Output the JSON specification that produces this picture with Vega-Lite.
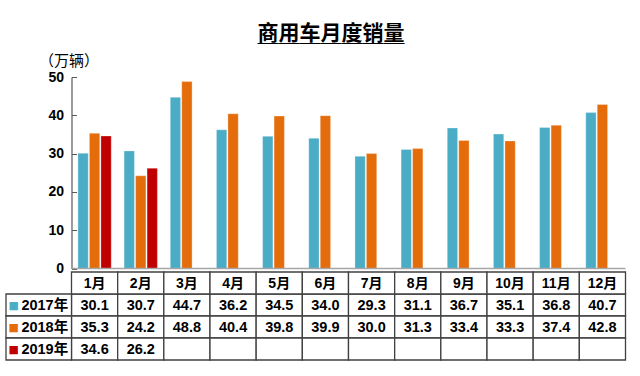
{
  "$schema": "https://vega.github.io/schema/vega-lite/v6.json",
  "width": 554,
  "height": 283,
  "autosize": "none",
  "padding": {"left": 71.5, "top": 77, "right": 14.5, "bottom": 16},
  "background": "white",
  "config": {"view": {"stroke": null}},
  "title": {
    "text": ["商用车月度销量", "＿＿＿＿＿＿＿"],
    "lineHeight": 1,
    "font": "Noto Sans CJK SC",
    "fontSize": 21,
    "fontWeight": "bold",
    "color": "#000000",
    "anchor": "middle",
    "frame": "group",
    "dx": -17.5,
    "offset": 8
  },
  "data": {
    "values": [
      {"month": "1月", "year": "2017年", "value": 30.1},
      {"month": "2月", "year": "2017年", "value": 30.7},
      {"month": "3月", "year": "2017年", "value": 44.7},
      {"month": "4月", "year": "2017年", "value": 36.2},
      {"month": "5月", "year": "2017年", "value": 34.5},
      {"month": "6月", "year": "2017年", "value": 34.0},
      {"month": "7月", "year": "2017年", "value": 29.3},
      {"month": "8月", "year": "2017年", "value": 31.1},
      {"month": "9月", "year": "2017年", "value": 36.7},
      {"month": "10月", "year": "2017年", "value": 35.1},
      {"month": "11月", "year": "2017年", "value": 36.8},
      {"month": "12月", "year": "2017年", "value": 40.7},
      {"month": "1月", "year": "2018年", "value": 35.3},
      {"month": "2月", "year": "2018年", "value": 24.2},
      {"month": "3月", "year": "2018年", "value": 48.8},
      {"month": "4月", "year": "2018年", "value": 40.4},
      {"month": "5月", "year": "2018年", "value": 39.8},
      {"month": "6月", "year": "2018年", "value": 39.9},
      {"month": "7月", "year": "2018年", "value": 30.0},
      {"month": "8月", "year": "2018年", "value": 31.3},
      {"month": "9月", "year": "2018年", "value": 33.4},
      {"month": "10月", "year": "2018年", "value": 33.3},
      {"month": "11月", "year": "2018年", "value": 37.4},
      {"month": "12月", "year": "2018年", "value": 42.8},
      {"month": "1月", "year": "2019年", "value": 34.6},
      {"month": "2月", "year": "2019年", "value": 26.2},
      {"month": "3月", "year": "2019年", "value": null},
      {"month": "4月", "year": "2019年", "value": null},
      {"month": "5月", "year": "2019年", "value": null},
      {"month": "6月", "year": "2019年", "value": null},
      {"month": "7月", "year": "2019年", "value": null},
      {"month": "8月", "year": "2019年", "value": null},
      {"month": "9月", "year": "2019年", "value": null},
      {"month": "10月", "year": "2019年", "value": null},
      {"month": "11月", "year": "2019年", "value": null},
      {"month": "12月", "year": "2019年", "value": null}
    ]
  },
  "resolve": {"scale": {"x": "independent", "y": "independent", "color": "shared"}},
  "layer": [
    {
      "mark": {"type": "bar", "stroke": "#ffffff", "strokeWidth": 0.5, "strokeOpacity": 0.6},
      "transform": [{"filter": "datum.value != null"}],
      "encoding": {
        "x": {"field": "month", "type": "nominal", "scale": {"domain": ["1月","2月","3月","4月","5月","6月","7月","8月","9月","10月","11月","12月"], "paddingInner": 0, "paddingOuter": 0}, "axis": null},
        "xOffset": {"field": "year", "type": "nominal", "scale": {"domain": ["2017年","2018年","2019年"], "paddingInner": 0.1, "paddingOuter": 0.56}},
        "y": {
          "field": "value", "type": "quantitative",
          "scale": {"domain": [0, 50], "range": [191.5, 0], "nice": false},
          "axis": {
            "values": [0, 10, 20, 30, 40, 50],
            "grid": false,
            "title": "（万辆）",
            "titleAngle": 0,
            "titleAlign": "center",
            "titleBaseline": "alphabetic",
            "titleX": -3,
            "titleY": -12,
            "titleFont": "Noto Sans CJK JP",
            "titleFontSize": 15,
            "titleFontWeight": "normal",
            "titleColor": "#000000",
            "labelFont": "Liberation Sans",
            "labelFontSize": 14,
            "labelFontWeight": "bold",
            "labelColor": "#000000",
            "labelPadding": 13,
            "tickSize": -5,
            "tickColor": "#595959",
            "domainColor": "#595959",
            "domainWidth": 1.2
          }
        },
        "color": {"field": "year", "type": "nominal", "scale": {"domain": ["2017年","2018年","2019年"], "range": ["#4BACC6", "#E46C0A", "#C00000"]}, "legend": null}
      }
    },
    {
      "data": {"values": [{"base": 0}]},
      "mark": {"type": "rule", "color": "#a6a6a6", "strokeWidth": 1.5},
      "encoding": {
        "y": {"field": "base", "type": "quantitative", "scale": {"domain": [0, 50], "range": [191.5, 0], "nice": false}, "axis": null}
      }
    },
    {
      "mark": {"type": "rect", "fill": "#ffffff", "stroke": "#404040", "strokeWidth": 1.3},
      "encoding": {
        "x": {"field": "month", "type": "nominal", "scale": {"domain": ["1月","2月","3月","4月","5月","6月","7月","8月","9月","10月","11月","12月"], "paddingInner": 0, "paddingOuter": 0}, "axis": null},
        "y": {"field": "year", "type": "nominal", "scale": {"domain": ["月份","2017年","2018年","2019年"], "range": [195, 283], "paddingInner": 0, "paddingOuter": 0}, "axis": null}
      }
    },
    {
      "transform": [{"filter": "datum.year == '2017年'"}],
      "mark": {"type": "rect", "fill": "#ffffff", "stroke": "#404040", "strokeWidth": 1.3},
      "encoding": {
        "x": {"field": "month", "type": "nominal", "scale": {"domain": ["1月","2月","3月","4月","5月","6月","7月","8月","9月","10月","11月","12月"], "paddingInner": 0, "paddingOuter": 0}, "axis": null},
        "y": {"datum": "月份", "type": "nominal", "scale": {"domain": ["月份","2017年","2018年","2019年"], "range": [195, 283], "paddingInner": 0, "paddingOuter": 0}, "axis": null}
      }
    },
    {
      "transform": [{"filter": "datum.year == '2017年'"}],
      "mark": {"type": "text", "font": "'Liberation Sans', 'Noto Sans CJK SC', sans-serif", "fontSize": 14, "fontWeight": "bold", "color": "#000000", "baseline": "middle", "dy": 1},
      "encoding": {
        "x": {"field": "month", "type": "nominal", "scale": {"domain": ["1月","2月","3月","4月","5月","6月","7月","8月","9月","10月","11月","12月"], "paddingInner": 0, "paddingOuter": 0}, "axis": null},
        "y": {"datum": "月份", "type": "nominal", "scale": {"domain": ["月份","2017年","2018年","2019年"], "range": [195, 283], "paddingInner": 0, "paddingOuter": 0}, "axis": null},
        "text": {"field": "month"}
      }
    },
    {
      "transform": [{"filter": "datum.value != null"}],
      "mark": {"type": "text", "font": "'Liberation Sans', sans-serif", "fontSize": 14.5, "fontWeight": "bold", "color": "#000000", "baseline": "middle", "dy": 1},
      "encoding": {
        "x": {"field": "month", "type": "nominal", "scale": {"domain": ["1月","2月","3月","4月","5月","6月","7月","8月","9月","10月","11月","12月"], "paddingInner": 0, "paddingOuter": 0}, "axis": null},
        "y": {"field": "year", "type": "nominal", "scale": {"domain": ["月份","2017年","2018年","2019年"], "range": [195, 283], "paddingInner": 0, "paddingOuter": 0}, "axis": null},
        "text": {"field": "value", "type": "quantitative", "format": ".1f"}
      }
    },
    {
      "transform": [{"filter": "datum.month == '1月'"}],
      "mark": {"type": "rect", "fill": "#ffffff", "stroke": "#404040", "strokeWidth": 1.3},
      "encoding": {
        "x": {"datum": "label", "type": "nominal", "scale": {"domain": ["label"], "range": [-65.5, 0], "paddingInner": 0, "paddingOuter": 0}, "axis": null},
        "y": {"field": "year", "type": "nominal", "scale": {"domain": ["月份","2017年","2018年","2019年"], "range": [195, 283], "paddingInner": 0, "paddingOuter": 0}, "axis": null}
      }
    },
    {
      "transform": [{"filter": "datum.month == '1月'"}],
      "mark": {"type": "text", "font": "'DejaVu Sans', sans-serif", "fontSize": 11, "baseline": "middle", "dx": -25, "dy": 1},
      "encoding": {
        "x": {"datum": "label", "type": "nominal", "scale": {"domain": ["label"], "range": [-65.5, 0], "paddingInner": 0, "paddingOuter": 0}, "axis": null},
        "y": {"field": "year", "type": "nominal", "scale": {"domain": ["月份","2017年","2018年","2019年"], "range": [195, 283], "paddingInner": 0, "paddingOuter": 0}, "axis": null},
        "text": {"value": "■"},
        "color": {"field": "year", "type": "nominal", "scale": {"domain": ["2017年","2018年","2019年"], "range": ["#4BACC6", "#E46C0A", "#C00000"]}, "legend": null}
      }
    },
    {
      "transform": [{"filter": "datum.month == '1月'"}],
      "mark": {"type": "text", "font": "'Liberation Sans', 'Noto Sans CJK SC', sans-serif", "fontSize": 14.5, "fontWeight": "bold", "color": "#000000", "baseline": "middle", "dx": 6, "dy": 1},
      "encoding": {
        "x": {"datum": "label", "type": "nominal", "scale": {"domain": ["label"], "range": [-65.5, 0], "paddingInner": 0, "paddingOuter": 0}, "axis": null},
        "y": {"field": "year", "type": "nominal", "scale": {"domain": ["月份","2017年","2018年","2019年"], "range": [195, 283], "paddingInner": 0, "paddingOuter": 0}, "axis": null},
        "text": {"field": "year"}
      }
    }
  ]
}
